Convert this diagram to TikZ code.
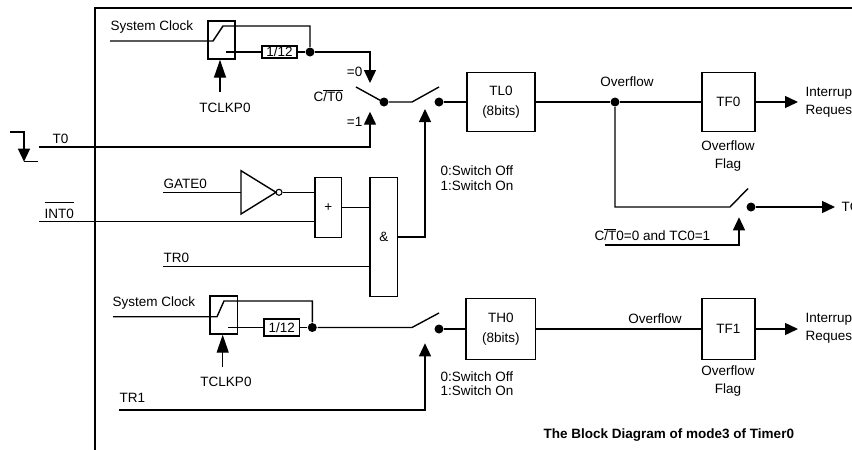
\documentclass[tikz,border=0pt]{standalone}
\usepackage{fontspec}
\setmainfont{Liberation Sans}
\usetikzlibrary{arrows.meta}
\begin{document}
\begin{tikzpicture}[x=1pt,y=-1pt,
  font=\fontsize{13.5}{15}\selectfont,
  line width=1.4pt,
  blk/.style={draw, rectangle, inner sep=0pt, line width=1.4pt},
  twoline/.style={align=center, font=\fontsize{13.5}{20}\selectfont},
  arr/.style={-{Triangle[length=13pt,width=12pt]}},
  arrlong/.style={-{Triangle[length=18pt,width=12pt]}},
  dot/.style={circle, fill, inner sep=0pt, minimum size=9pt},
  lbl/.style={inner sep=0pt},
  lbltwo/.style={inner sep=0pt, font=\fontsize{13.5}{18}\selectfont},
  lblsw/.style={inner sep=0pt, align=left, font=\fontsize{13.5}{14.5}\selectfont},
  frame/.style={line width=1.9pt}]
\useasboundingbox (0,0) rectangle (852,450);

% frame
\draw[frame] (95,450) -- (95,8) -- (852,8);

% ---------- top clock section ----------
\node[lbl, anchor=base west] (sclk1) at (110,30.7) {System Clock};
\node[blk, minimum width=27pt, minimum height=38pt] (sw1) at (221.5,40) {};
\coordinate (sc1in) at (110,41);
\coordinate (lv1a) at (213,41);
\coordinate (lv1b) at (223,26);
\coordinate (ct1) at (226,52);
\node[blk, minimum width=35pt, minimum height=12pt] (div1) at (279.5,52) {1/12};
\node[dot] (d1) at (310,52) {};
\draw (sc1in) -- (lv1a) -- (lv1b) -- (lv1b -| d1) -- (d1);
\draw (ct1) -- (div1) -- (d1);
\coordinate (m0) at (370,52);
\coordinate (sel0) at (370,83);
\draw[arr] (d1) -- (m0) -- (sel0);
\node[lbl, anchor=base] (tk1) at (225,112) {TCLKP0};
\coordinate (tk1top) at (220,92);
\draw[arrlong] (tk1top) -- (tk1top |- sw1.south);

% selector switch C/T0
\node[lbl, anchor=base east] (eq0) at (363,76.3) {=0};
\node[lbl, anchor=base east] (eq1) at (363,126.5) {=1};
\node[lbl, anchor=base west] (ct0) at (313,101.5) {C$\overline{\hbox{/T0}}$};
\coordinate (lvA) at (356,87);
\coordinate (lvAe) at (380.5,100.5);
\node[dot] (dA) at (384,102) {};
\draw (lvA) -- (lvAe);
\coordinate (t0in) at (39,147);
\coordinate (sel1) at (370,111.7);
\draw[arr] (t0in) -- (t0in -| sel1) -- (sel1);
\node[lbl, anchor=base west] (t0l) at (52,143) {T0};
% falling edge symbol
\coordinate (fe1) at (10,132);
\coordinate (fe2) at (24,132);
\coordinate (fe3) at (24,161.7);
\coordinate (fe4) at (38,161.7);
\draw[arr] (fe1) -- (fe2) -- (fe3);
\draw (fe3) -- (fe4);

% gate switch
\coordinate (lvB) at (412,102);
\coordinate (lvBt) at (439,87);
\node[dot] (dB) at (439,102) {};
\draw (dA) -- (lvB) -- (lvBt);
\node[blk, twoline, minimum width=68pt, minimum height=59pt] (tl0) at (501,102) {TL0\\(8bits)};
\draw (dB) -- (tl0);
\node[lblsw, anchor=west] (swl1) at (440,178) {0:Switch Off\\1:Switch On};

% overflow TF0
\node[dot] (ovf) at (615,102) {};
\node[lbl] (ovl1) at (627,82) {Overflow};
\node[blk, minimum width=53pt, minimum height=59pt] (tf0) at (728.3,102) {TF0};
\draw (tl0) -- (ovf) -- (tf0);
\coordinate (ir0) at (798,102);
\draw[arr] (tf0) -- (ir0);
\node[lbltwo, anchor=west, align=left] (irq0) at (805,102) {Interrupt\\Request};
\node[lbltwo, align=center] (ofl0) at (728,156) {Overflow\\Flag};

% branch to TC
\coordinate (lvC) at (730,207);
\coordinate (lvCt) at (748,188.5);
\node[dot] (dC) at (751,207) {};
\coordinate (tc1) at (835,207);
\draw (ovf) -- (ovf |- lvC) -- (lvC) -- (lvCt);
\draw[arr] (dC) -- (tc1);
\node[lbl, anchor=west] (tc1l) at (841,207) {TC1};
\coordinate (ctl0) at (605,245);
\coordinate (ctl0t) at (739,217.3);
\draw[arr] (ctl0) -- (ctl0 -| ctl0t) -- (ctl0t);
\node[lbl, anchor=base west] (ctcond) at (594,240) {C$\overline{\hbox{/T}}$0=0 and TC0=1};

% ---------- gate logic ----------
\node[lbl, anchor=base west] (gate) at (163,188) {GATE0};
\coordinate (gin) at (163,192.3);
\coordinate (notin) at (241,192.3);
\draw (241,170.7) -- (241,214) -- (276,192.3) -- cycle;
\node[circle, draw, inner sep=0pt, minimum size=6pt, line width=1.1pt] (bub) at (279,192.3) {};
\draw (gin) -- (notin);
\node[blk, minimum width=26.7pt, minimum height=60pt] (or0) at (328.3,207.3) {+};
\draw (bub) -- (bub -| or0.west);
\coordinate (intin) at (39,221.7);
\draw (intin) -- (intin -| or0.west);
\node[lbl, anchor=base west] (intl) at (44,218.2) {$\overline{\rule{0pt}{15pt}\hbox{INT0}}$};
\node[blk, minimum width=27.7pt, minimum height=119.4pt] (and0) at (383.8,237) {\&};
\draw (or0) -- (or0 -| and0.west);
\node[lbl, anchor=base west] (tr0l) at (163,262.5) {TR0};
\coordinate (tr0in) at (163,266.7);
\draw (tr0in) -- (tr0in -| and0.west);
\coordinate (sw2ctl) at (425,109);
\draw[arr] (and0.east) -- (and0.east -| sw2ctl) -- (sw2ctl);

% ---------- bottom clock section ----------
\node[lbl, anchor=base west] (sclk2) at (112,306.7) {System Clock};
\node[blk, minimum width=27.3pt, minimum height=38pt] (sw2) at (223.7,315) {};
\coordinate (sc2in) at (113,316.7);
\coordinate (lv2a) at (217,316.7);
\coordinate (lv2b) at (224,301);
\coordinate (ct2) at (228,327.5);
\node[blk, minimum width=35.3pt, minimum height=17pt] (div2) at (281.7,327.5) {1/12};
\node[dot] (d2) at (312.3,327.5) {};
\draw (sc2in) -- (lv2a) -- (lv2b) -- (lv2b -| d2) -- (d2);
\draw (ct2) -- (div2) -- (d2);
\node[lbl, anchor=base] (tk2) at (226,386.5) {TCLKP0};
\coordinate (tk2top) at (222.7,367);
\draw[arrlong] (tk2top) -- (tk2top |- sw2.south);
\coordinate (lvD) at (412,327.5);
\coordinate (lvDt) at (439,313);
\node[dot] (dD) at (439,329) {};
\draw (d2) -- (lvD) -- (lvDt);
\node[blk, twoline, minimum width=69.7pt, minimum height=60.7pt] (th0) at (500.8,329) {TH0\\(8bits)};
\draw (dD) -- (th0);
\node[lblsw, anchor=west] (swl2) at (440,383.5) {0:Switch Off\\1:Switch On};
\node[lbl, anchor=base west] (tr1l) at (119,402.8) {TR1};
\coordinate (tr1in) at (119,410);
\coordinate (sw3ctl) at (425,343.3);
\draw[arr] (tr1in) -- (tr1in -| sw3ctl) -- (sw3ctl);

\node[blk, minimum width=53pt, minimum height=60.7pt] (tf1) at (728.3,329) {TF1};
\draw (th0) -- (tf1);
\node[lbl] (ovl2) at (655,319) {Overflow};
\coordinate (ir1) at (798,329);
\draw[arr] (tf1) -- (ir1);
\node[lbltwo, anchor=west, align=left] (irq1) at (805,328) {Interrupt\\Request};
\node[lbltwo, align=center] (ofl1) at (728,381) {Overflow\\Flag};

\node[lbl, anchor=west, font=\fontsize{13.5}{15}\selectfont\bfseries] (title) at (543,435) {The Block Diagram of mode3 of Timer0};
\end{tikzpicture}
\end{document}
